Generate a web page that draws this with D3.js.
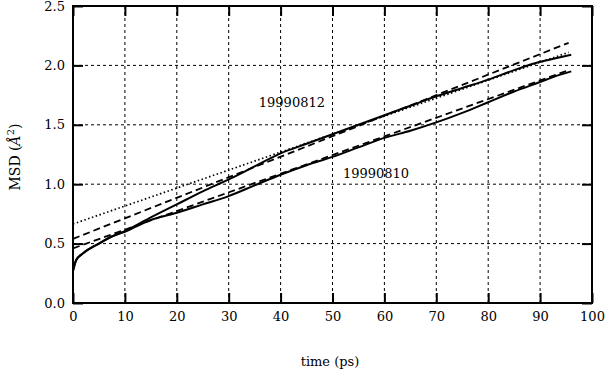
<!DOCTYPE html>
<html>
<head>
<meta charset="utf-8">
<script src="https://cdn.jsdelivr.net/npm/d3@7"></script>
<style>
  body { margin: 0; background: #fff; }
  svg text { font-family: "DejaVu Serif", serif; fill: #000; }
</style>
</head>
<body>
<svg id="chart" width="605" height="371"></svg>
<script>
// MSD curves
const time812 = [0, 0.6, 2, 5, 7.5, 10, 15, 20, 25, 30, 35, 40, 45, 50, 55, 60, 65, 70, 75, 80, 85, 90, 93, 96];
const msd812 = [0.27, 0.36, 0.42, 0.5, 0.56, 0.605, 0.72, 0.83, 0.94, 1.04, 1.15, 1.26, 1.34, 1.42, 1.5, 1.58, 1.66, 1.74, 1.81, 1.88, 1.96, 2.03, 2.06, 2.09];
const time810 = [0, 0.6, 2, 5, 7.5, 10, 15, 20, 25, 30, 35, 40, 45, 50, 55, 60, 65, 70, 75, 80, 85, 90, 93, 96];
const msd810 = [0.27, 0.36, 0.42, 0.5, 0.56, 0.6, 0.7, 0.76, 0.83, 0.9, 0.99, 1.08, 1.16, 1.23, 1.31, 1.39, 1.45, 1.52, 1.6, 1.69, 1.78, 1.86, 1.91, 1.95];

// linear fits: [t0, y0, t1, y1]
const fitDotted = [0, 0.665, 95.5, 2.11];
const fitDashedUpper = [0, 0.54, 95.5, 2.19];
const fitDashedLower = [0, 0.46, 95.5, 1.96];

const xTicks = [0, 10, 20, 30, 40, 50, 60, 70, 80, 90, 100];
const yTicks = [0, 0.5, 1, 1.5, 2, 2.5];

const labelNames = ["19990812", "19990810"];
const labelT = [35.8, 52];
const labelY = [1.65, 1.05];

const svg = d3.select("#chart");
const plotL = 73, plotR = 592, plotT = 6, plotB = 303;

const x = d3.scaleLinear().domain([0, 100]).range([plotL, plotR]);
const y = d3.scaleLinear().domain([0, 2.5]).range([plotB, plotT]);

// grid
svg.append("g")
  .selectAll("line")
  .data(xTicks.slice(1, -1))
  .enter()
  .append("line")
  .attr("x1", (d) => x(d)).attr("x2", (d) => x(d))
  .attr("y1", plotT).attr("y2", plotB)
  .attr("stroke", "#000").attr("stroke-width", 1)
  .attr("stroke-dasharray", "3,3");

svg.append("g")
  .selectAll("line")
  .data(yTicks.slice(1, -1))
  .enter()
  .append("line")
  .attr("x1", plotL).attr("x2", plotR)
  .attr("y1", (d) => y(d)).attr("y2", (d) => y(d))
  .attr("stroke", "#000").attr("stroke-width", 1)
  .attr("stroke-dasharray", "3,3");

// axes with inside ticks on all sides
const tickLen = 10;
svg.append("g")
  .attr("transform", `translate(0,${plotB})`)
  .call(d3.axisBottom(x).tickValues(xTicks).tickSize(-tickLen).tickPadding(9).tickFormat(d3.format("d")))
  .call((g) => g.select(".domain").remove());
svg.append("g")
  .attr("transform", `translate(0,${plotT})`)
  .call(d3.axisTop(x).tickValues(xTicks).tickSize(-tickLen).tickFormat(""))
  .call((g) => g.select(".domain").remove());
svg.append("g")
  .attr("transform", `translate(${plotL},0)`)
  .call(d3.axisLeft(y).tickValues(yTicks).tickSize(-tickLen).tickPadding(8).tickFormat(d3.format(".1f")))
  .call((g) => g.select(".domain").remove());
svg.append("g")
  .attr("transform", `translate(${plotR},0)`)
  .call(d3.axisRight(y).tickValues(yTicks).tickSize(-tickLen).tickFormat(""))
  .call((g) => g.select(".domain").remove());

svg.selectAll(".tick line").attr("stroke", "#000").attr("stroke-width", 2);
svg.selectAll(".tick text")
  .attr("font-size", 13)
  .attr("fill", "#000");

// frame
svg.append("rect")
  .attr("x", plotL).attr("y", plotT)
  .attr("width", plotR - plotL).attr("height", plotB - plotT)
  .attr("fill", "none").attr("stroke", "#000").attr("stroke-width", 2);

// fits
const fits = [
  { f: fitDotted, dash: "1.5,2.5", w: 1.7 },
  { f: fitDashedUpper, dash: "7,4", w: 1.8 },
  { f: fitDashedLower, dash: "7,4", w: 1.8 },
];
svg.append("g")
  .selectAll("line")
  .data(fits)
  .enter()
  .append("line")
  .attr("x1", (d) => x(d.f[0])).attr("y1", (d) => y(d.f[1]))
  .attr("x2", (d) => x(d.f[2])).attr("y2", (d) => y(d.f[3]))
  .attr("stroke", "#000")
  .attr("stroke-width", (d) => d.w)
  .attr("stroke-dasharray", (d) => d.dash);

// data curves
const line = d3.line().x((d) => x(d[0])).y((d) => y(d[1])).curve(d3.curveMonotoneX);
[[time812, msd812], [time810, msd810]].forEach(([ts, vs]) => {
  svg.append("path")
    .datum(ts.map((t, i) => [t, vs[i]]))
    .attr("d", line)
    .attr("fill", "none")
    .attr("stroke", "#000")
    .attr("stroke-width", 2);
});

// labels
svg.append("g")
  .selectAll("text")
  .data(labelNames)
  .enter()
  .append("text")
  .attr("x", (d, i) => x(labelT[i]))
  .attr("y", (d, i) => y(labelY[i]))
  .attr("font-size", 13)
  .text((d) => d);

// axis titles
svg.append("text")
  .attr("x", 330).attr("y", 366)
  .attr("text-anchor", "middle")
  .attr("font-size", 13)
  .text("time (ps)");

const yt = svg.append("text")
  .attr("transform", "translate(20,157) rotate(-90)")
  .attr("text-anchor", "middle")
  .attr("font-size", 14);
yt.append("tspan").text("MSD (");
yt.append("tspan").attr("font-style", "italic").text("Å");
yt.append("tspan").attr("font-size", 10).attr("dy", -6).text("2");
yt.append("tspan").attr("dy", 6).text(")");
</script>
</body>
</html>
